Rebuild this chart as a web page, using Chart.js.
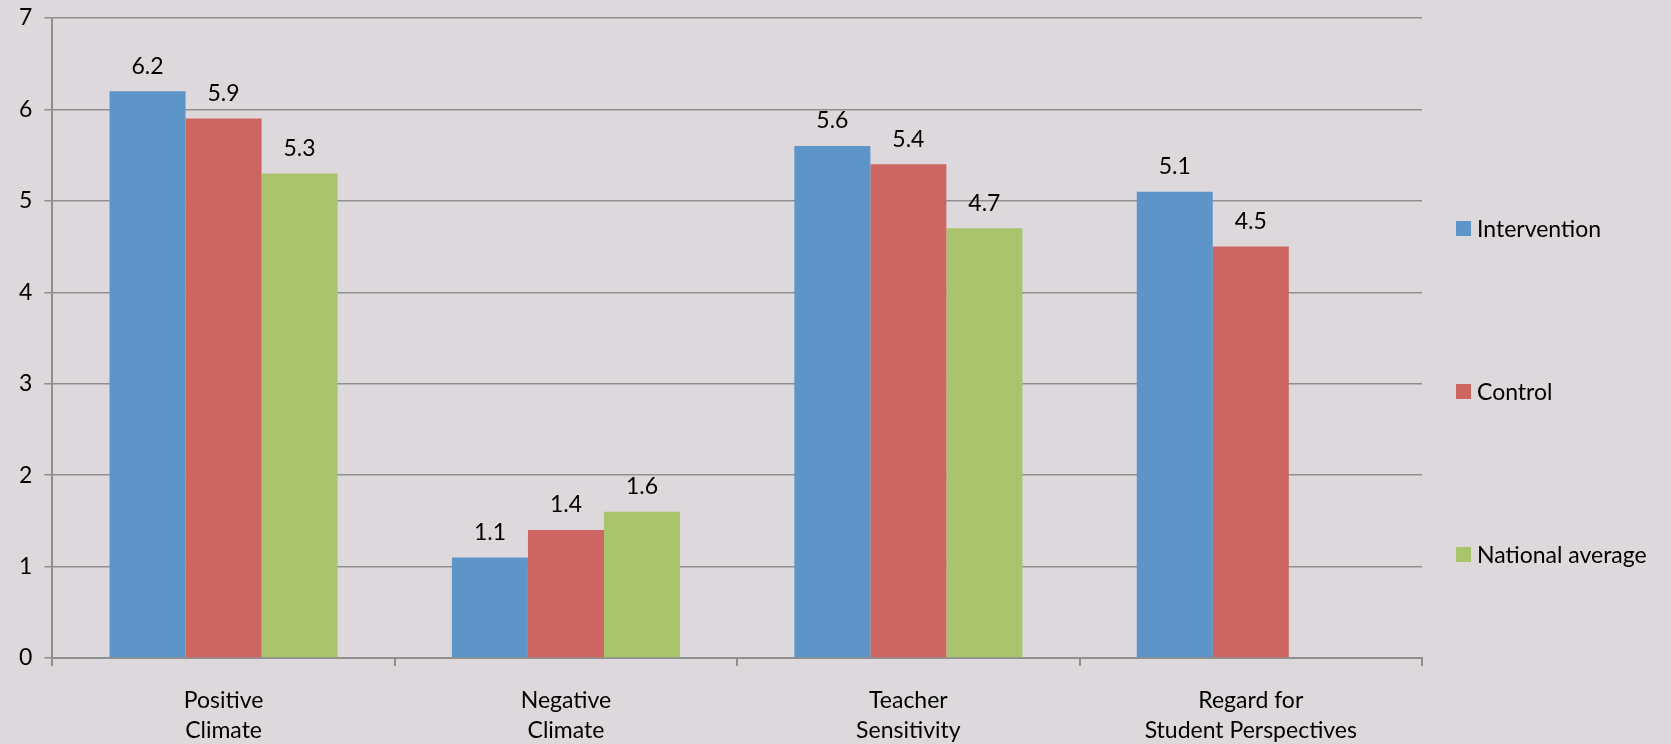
<!DOCTYPE html>
<html>
<head>
<meta charset="utf-8">
<script src="https://cdn.jsdelivr.net/npm/chart.js@4/dist/chart.umd.min.js"></script>
<style>
  html, body { margin: 0; padding: 0; background: #dcd8dc; }
  #wrap { width: 1671px; height: 744px; }
</style>
</head>
<body>
<div id="wrap"><canvas id="barChart" width="1671" height="744"></canvas></div>
<script>
const categories = [
    ['Positive', 'Climate'],
    ['Negative', 'Climate'],
    ['Teacher', 'Sensitivity'],
    ['Regard for', 'Student Perspectives']
];
const intervention = [6.2, 1.1, 5.6, 5.1];
const control = [5.9, 1.4, 5.4, 4.5];
const nationalAverage = [5.3, 1.6, 4.7, null];
const yTicks = [0, 1, 2, 3, 4, 5, 6, 7];

const FONT = 'Lato';
const SIZE = 23;

// draws the value above each bar
const valueLabels = {
    id: 'valueLabels',
    afterDatasetsDraw(chart) {
        const ctx = chart.ctx;
        ctx.save();
        ctx.font = SIZE + 'px ' + FONT;
        ctx.fillStyle = '#000';
        ctx.textAlign = 'center';
        ctx.textBaseline = 'middle';
        chart.data.datasets.forEach((ds, i) => {
            chart.getDatasetMeta(i).data.forEach((bar, j) => {
                if (ds.data[j] == null) return;
                ctx.fillText(ds.data[j].toFixed(1), bar.x, bar.y - 25);
            });
        });
        ctx.restore();
    }
};

// widely spaced legend to the right of the plot, like the excel original
const sideLegend = {
    id: 'sideLegend',
    afterDraw(chart) {
        const ctx = chart.ctx;
        const area = chart.chartArea;
        const x = area.right + 34;
        const gap = 163;
        const firstY = (area.top + area.bottom) / 2 + 54 - gap;
        ctx.save();
        ctx.font = SIZE + 'px ' + FONT;
        ctx.textBaseline = 'middle';
        ctx.textAlign = 'left';
        chart.data.datasets.forEach((ds, i) => {
            const y = firstY + i * gap;
            ctx.fillStyle = ds.backgroundColor;
            ctx.fillRect(x, y - 8, 15, 15);
            ctx.fillStyle = '#000';
            ctx.fillText(ds.label, x + 21, y + 1);
        });
        ctx.restore();
    }
};

new Chart(document.getElementById('barChart').getContext('2d'), {
    type: 'bar',
    data: {
        labels: categories,
        datasets: [
            { label: 'Intervention', data: intervention, backgroundColor: '#5e95c9' },
            { label: 'Control', data: control, backgroundColor: '#cd6660' },
            { label: 'National average', data: nationalAverage, backgroundColor: '#a9c46c' }
        ]
    },
    options: {
        responsive: false,
        animation: false,
        layout: { padding: { top: 18, right: 249, left: 7, bottom: 0 } },
        datasets: { bar: { categoryPercentage: 0.666, barPercentage: 1 } },
        plugins: {
            legend: { display: false },
            tooltip: { enabled: false }
        },
        scales: {
            x: {
                afterFit(axis) { axis.height = 86; },
                grid: { drawOnChartArea: false, color: '#8f8f8f', tickLength: 8, lineWidth: 2 },
                border: { color: '#8f8f8f', width: 2 },
                ticks: { font: { family: FONT, size: SIZE, lineHeight: 1.3 }, color: '#000', padding: 20 }
            },
            y: {
                min: 0,
                max: 7,
                afterBuildTicks(axis) { axis.ticks = yTicks.map(v => ({ value: v })); },
                afterFit(axis) { axis.paddingTop = 0; },
                grid: { color: '#8f8f8f', tickLength: 8, lineWidth: 1.5 },
                border: { color: '#8f8f8f', width: 2 },
                ticks: { font: { family: FONT, size: SIZE }, color: '#000', padding: 12 }
            }
        }
    },
    plugins: [valueLabels, sideLegend]
});
</script>
</body>
</html>
